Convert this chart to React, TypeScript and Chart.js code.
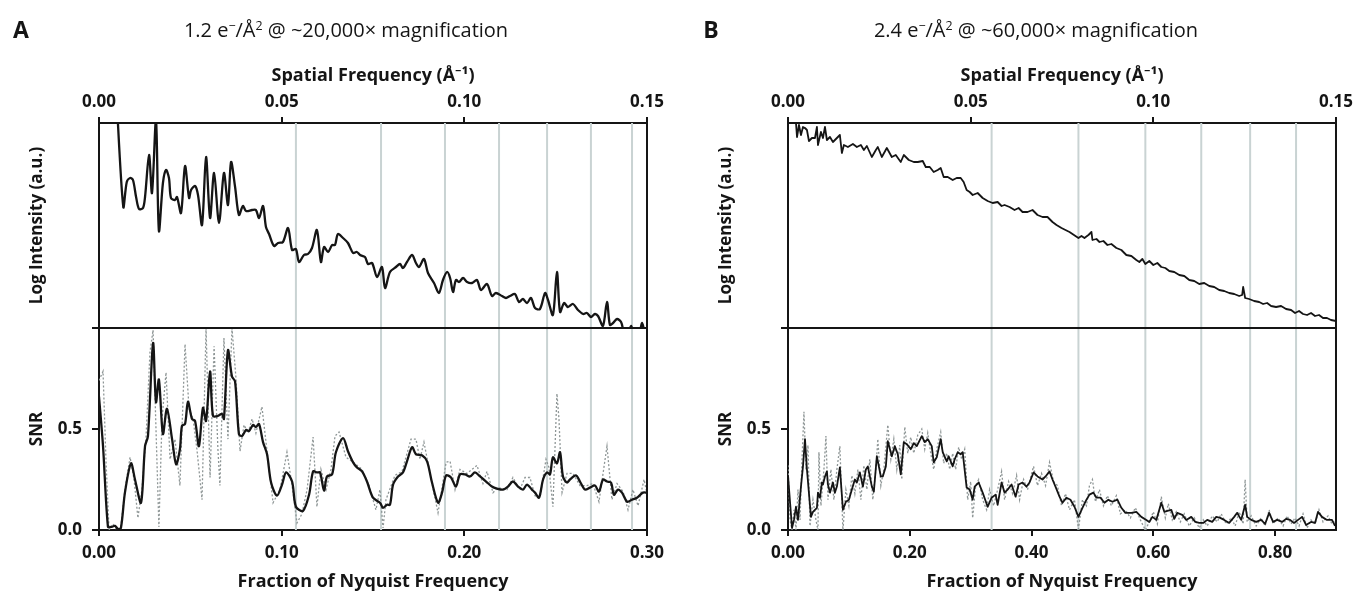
import React, { useEffect, useRef } from 'react';
import { Chart, registerables } from 'chart.js';
Chart.register(...registerables);

const FONT = "'Open Sans', 'Noto Sans', 'DejaVu Sans', sans-serif";

// ---------- shared axis ticks ----------
const spatialTicks = [0, 0.05, 0.1, 0.15];
const snrTicks = [0, 0.5, 1.0];
const nyquistTicksA = [0, 0.1, 0.2, 0.3];
const nyquistTicksB = [0, 0.2, 0.4, 0.6, 0.8];

// ---------- Panel A ----------
const ctfZerosA = [0.1078, 0.1544, 0.1894, 0.219, 0.2453, 0.2693, 0.2918];
const intensityA: [number, number][] = [
  [0.0093, 240], [0.0133, 121], [0.0152, 146], [0.017, 150], [0.0186, 148], [0.0203, 131], [0.0219, 119], [0.0241, 120],
  [0.0252, 131], [0.0274, 173], [0.029, 135], [0.0312, 208], [0.0328, 97], [0.035, 145], [0.0367, 158], [0.0383, 150],
  [0.0394, 130], [0.0416, 128], [0.0427, 131], [0.0449, 115], [0.0471, 162], [0.0493, 130], [0.0504, 138], [0.0526, 142],
  [0.0542, 133], [0.0564, 103], [0.0586, 171], [0.0608, 110], [0.063, 155], [0.0657, 105], [0.0684, 155], [0.0706, 123],
  [0.0723, 166], [0.0745, 141], [0.0766, 113], [0.0788, 122], [0.0805, 117], [0.0838, 118], [0.0859, 118], [0.0876, 110],
  [0.0898, 122], [0.0914, 101], [0.0931, 94], [0.0958, 82], [0.098, 85], [0.1007, 86], [0.1035, 100], [0.1057, 78],
  [0.1078, 79], [0.1095, 66], [0.1122, 73], [0.1144, 74], [0.1166, 80], [0.1193, 98], [0.1215, 66], [0.1232, 81],
  [0.1254, 76], [0.1276, 83], [0.1292, 83], [0.1308, 94], [0.1336, 90], [0.1363, 85], [0.1391, 75], [0.1412, 76],
  [0.1429, 73], [0.1456, 71], [0.1473, 64], [0.1495, 65], [0.1522, 51], [0.1549, 61], [0.1566, 40], [0.1593, 56],
  [0.1626, 61], [0.1648, 64], [0.1664, 60], [0.1686, 66], [0.1714, 73], [0.1735, 65], [0.1752, 61], [0.1779, 69],
  [0.1801, 55], [0.1834, 45], [0.1861, 35], [0.1883, 48], [0.1905, 56], [0.1922, 50], [0.1938, 36], [0.1954, 48],
  [0.1971, 46], [0.1993, 50], [0.2015, 46], [0.2042, 45], [0.2069, 48], [0.2091, 38], [0.2124, 44], [0.2151, 32],
  [0.2173, 35], [0.2206, 32], [0.2228, 30], [0.225, 32], [0.2277, 34], [0.2299, 26], [0.2321, 29], [0.2343, 25],
  [0.2365, 30], [0.2387, 20], [0.2414, 19], [0.2442, 35], [0.2458, 28], [0.2485, 13], [0.2507, 56], [0.2524, 16],
  [0.2546, 25], [0.2567, 21], [0.2595, 24], [0.2622, 18], [0.265, 14], [0.2671, 15], [0.2693, 11], [0.2715, 14],
  [0.2732, 12], [0.2759, 2], [0.2781, 26], [0.2797, 3], [0.2814, 5], [0.2836, 9], [0.2858, 6], [0.2874, -4],
  [0.2896, -7], [0.2912, 2], [0.2929, -5], [0.2956, -6], [0.2973, 5], [0.2989, -5], [0.3, -2],
];
const snrSmoothA: [number, number][] = [
  [0, 0.66], [0.0022, 0.415], [0.0049, 0.015], [0.0066, 0.015], [0.0088, 0.02], [0.0104, 0.005], [0.012, 0.01],
  [0.0142, 0.185], [0.0175, 0.33], [0.0197, 0.25], [0.023, 0.135], [0.0252, 0.415], [0.0268, 0.465], [0.0296, 0.925],
  [0.0312, 0.633], [0.0328, 0.745], [0.035, 0.475], [0.0372, 0.6], [0.04, 0.45], [0.0422, 0.325], [0.0443, 0.4],
  [0.0454, 0.515], [0.0471, 0.525], [0.0487, 0.635], [0.0509, 0.55], [0.0526, 0.54], [0.0547, 0.415], [0.0569, 0.605],
  [0.0586, 0.54], [0.0608, 0.785], [0.0624, 0.565], [0.0651, 0.565], [0.0673, 0.575], [0.0684, 0.55], [0.0706, 0.89],
  [0.0728, 0.76], [0.0745, 0.735], [0.0766, 0.475], [0.0783, 0.465], [0.0805, 0.495], [0.0821, 0.49], [0.0843, 0.52],
  [0.0859, 0.51], [0.0876, 0.525], [0.0898, 0.435], [0.092, 0.375], [0.0942, 0.235], [0.0974, 0.17], [0.1002, 0.225],
  [0.1024, 0.285], [0.1057, 0.24], [0.1078, 0.115], [0.1117, 0.095], [0.115, 0.175], [0.1172, 0.29], [0.1193, 0.285],
  [0.121, 0.285], [0.1232, 0.195], [0.1248, 0.265], [0.1276, 0.275], [0.1297, 0.385], [0.1336, 0.455], [0.1363, 0.39],
  [0.1391, 0.335], [0.1412, 0.31], [0.144, 0.29], [0.1467, 0.24], [0.15, 0.16], [0.1538, 0.135], [0.1555, 0.11],
  [0.1577, 0.125], [0.1593, 0.125], [0.161, 0.225], [0.1637, 0.265], [0.1664, 0.285], [0.1686, 0.34], [0.1714, 0.41],
  [0.1735, 0.375], [0.1768, 0.37], [0.1796, 0.34], [0.1823, 0.235], [0.1856, 0.135], [0.1878, 0.185], [0.19, 0.27],
  [0.1927, 0.26], [0.1954, 0.215], [0.1976, 0.275], [0.2004, 0.275], [0.2031, 0.265], [0.2058, 0.285], [0.2086, 0.265],
  [0.2119, 0.24], [0.2151, 0.215], [0.2179, 0.205], [0.2212, 0.2], [0.2239, 0.215], [0.2266, 0.24], [0.2294, 0.215],
  [0.2321, 0.2], [0.2343, 0.225], [0.237, 0.2], [0.2387, 0.185], [0.2409, 0.16], [0.2431, 0.25], [0.2453, 0.285],
  [0.2469, 0.275], [0.2485, 0.36], [0.2507, 0.33], [0.2524, 0.385], [0.254, 0.265], [0.2562, 0.235], [0.2578, 0.25],
  [0.2611, 0.27], [0.2633, 0.24], [0.2661, 0.2], [0.2688, 0.21], [0.2715, 0.22], [0.2737, 0.19], [0.2759, 0.25],
  [0.2781, 0.24], [0.2803, 0.235], [0.2819, 0.175], [0.2841, 0.2], [0.2863, 0.185], [0.2891, 0.14], [0.2918, 0.15],
  [0.2945, 0.16], [0.2978, 0.185], [0.3, 0.185],
];
const snrRawA: [number, number][] = [
  [0, 0.74], [0.0022, 0.785], [0.0038, 0.35], [0.0055, 0.0], [0.0077, 0.03], [0.0099, 0.0], [0.012, 0.02], [0.0142, 0.2],
  [0.017, 0.36], [0.0192, 0.25], [0.0213, 0.06], [0.0235, 0.2], [0.0257, 0.45], [0.0279, 0.88], [0.0296, 0.99],
  [0.0312, 0.5], [0.0328, 0.015], [0.0345, 0.55], [0.0367, 0.78], [0.0389, 0.35], [0.0416, 0.45], [0.0443, 0.22],
  [0.0471, 0.92], [0.0493, 0.6], [0.0515, 0.55], [0.0536, 0.4], [0.0564, 0.15], [0.0586, 1.0], [0.0608, 0.26],
  [0.063, 0.91], [0.0651, 0.4], [0.0662, 0.22], [0.0684, 0.95], [0.0706, 0.45], [0.0728, 1.0], [0.075, 0.75],
  [0.0772, 0.39], [0.0794, 0.52], [0.0816, 0.48], [0.0838, 0.55], [0.0859, 0.48], [0.0892, 0.61], [0.092, 0.39],
  [0.0953, 0.135], [0.0991, 0.2], [0.1029, 0.385], [0.1057, 0.22], [0.1084, 0.035], [0.1111, 0.08], [0.1139, 0.2],
  [0.1172, 0.46], [0.1193, 0.115], [0.1215, 0.3], [0.1243, 0.2], [0.127, 0.3], [0.1292, 0.465], [0.1314, 0.485],
  [0.1352, 0.36], [0.1385, 0.34], [0.144, 0.3], [0.1478, 0.22], [0.1516, 0.1], [0.1538, 0.2], [0.1555, 0.01],
  [0.1571, 0.15], [0.162, 0.27], [0.1659, 0.29], [0.1708, 0.45], [0.1735, 0.45], [0.1757, 0.35], [0.1779, 0.435],
  [0.1812, 0.28], [0.1856, 0.085], [0.19, 0.335], [0.1922, 0.34], [0.1949, 0.2], [0.1976, 0.3], [0.2014, 0.28],
  [0.2069, 0.32], [0.2102, 0.23], [0.2124, 0.29], [0.2157, 0.185], [0.2184, 0.21], [0.2234, 0.2], [0.2266, 0.26],
  [0.2304, 0.2], [0.2332, 0.26], [0.2359, 0.26], [0.2387, 0.17], [0.2414, 0.16], [0.2447, 0.35], [0.2463, 0.31],
  [0.2485, 0.115], [0.2507, 0.675], [0.2518, 0.55], [0.2535, 0.185], [0.2562, 0.28], [0.2595, 0.28], [0.2633, 0.22],
  [0.2671, 0.22], [0.2704, 0.23], [0.2737, 0.14], [0.2781, 0.415], [0.2808, 0.15], [0.2836, 0.23], [0.2869, 0.19],
  [0.2896, 0.1], [0.2923, 0.2], [0.2951, 0.12], [0.2984, 0.25], [0.3, 0.18],
];

// ---------- Panel B ----------
const ctfZerosB = [0.3344, 0.477, 0.5869, 0.6787, 0.759, 0.8344];
const intensityB: [number, number][] = [
  [0.0131, 205], [0.0148, 191], [0.018, 203], [0.0213, 193], [0.0246, 201], [0.0279, 200], [0.0311, 198], [0.0344, 187],
  [0.0393, 190], [0.0443, 190], [0.0475, 201], [0.0492, 183], [0.0541, 196], [0.0574, 190], [0.0607, 201], [0.0639, 188],
  [0.0689, 191], [0.0738, 186], [0.0787, 189], [0.0852, 193], [0.0885, 175], [0.0918, 183], [0.0984, 181], [0.1066, 184],
  [0.1131, 181], [0.1197, 183], [0.1246, 178], [0.1295, 182], [0.1377, 171], [0.1443, 178], [0.1475, 181], [0.1541, 171],
  [0.1623, 180], [0.1705, 171], [0.177, 173], [0.1852, 166], [0.1902, 173], [0.1984, 168], [0.2066, 166], [0.2131, 166],
  [0.2213, 167], [0.2262, 161], [0.2328, 161], [0.2393, 156], [0.2459, 158], [0.2508, 160], [0.2557, 151], [0.2623, 151],
  [0.2705, 148], [0.277, 150], [0.2836, 150], [0.2885, 146], [0.2934, 138], [0.2984, 136], [0.3033, 133], [0.3115, 135],
  [0.3197, 130], [0.3279, 127], [0.3361, 125], [0.3443, 126], [0.3508, 122], [0.3557, 123], [0.3639, 121], [0.3721, 118],
  [0.3787, 120], [0.3852, 116], [0.3934, 116], [0.4016, 118], [0.4098, 113], [0.418, 111], [0.4262, 111], [0.4344, 106],
  [0.441, 103], [0.4492, 100], [0.4557, 98], [0.4623, 96], [0.477, 90], [0.482, 92], [0.4869, 90], [0.4934, 93],
  [0.4984, 96], [0.5, 88], [0.5066, 89], [0.5115, 86], [0.518, 87], [0.5246, 83], [0.5311, 84], [0.5393, 80],
  [0.5475, 78], [0.5557, 73], [0.5639, 72], [0.5721, 68], [0.577, 66], [0.582, 69], [0.5869, 64], [0.5934, 67],
  [0.6, 63], [0.6066, 65], [0.6131, 61], [0.6197, 60], [0.6262, 57], [0.6344, 56], [0.6426, 53], [0.6508, 52],
  [0.659, 48], [0.6672, 47], [0.6754, 44], [0.6836, 45], [0.6918, 42], [0.7, 41], [0.7082, 38], [0.7164, 37],
  [0.7246, 35], [0.7328, 34], [0.741, 32], [0.7459, 33], [0.7475, 41], [0.7508, 30], [0.7574, 29], [0.7656, 27],
  [0.7738, 26], [0.7803, 24], [0.7869, 25], [0.7934, 22], [0.8016, 21], [0.8098, 22], [0.818, 19], [0.8262, 18],
  [0.8328, 15], [0.8393, 17], [0.8459, 14], [0.8525, 13], [0.859, 15], [0.8656, 12], [0.8721, 13], [0.8787, 10],
  [0.8852, 10], [0.8918, 8], [0.9, 7],
];
const snrSmoothB: [number, number][] = [
  [0, 0.27], [0.0066, 0.01], [0.0098, 0.05], [0.0131, 0.115], [0.0164, 0.05], [0.0213, 0.215], [0.0246, 0.315],
  [0.0279, 0.45], [0.0311, 0.3], [0.0377, 0.065], [0.041, 0.09], [0.0475, 0.11], [0.0492, 0.185], [0.0525, 0.16],
  [0.0557, 0.235], [0.0574, 0.225], [0.0607, 0.265], [0.0639, 0.29], [0.0656, 0.225], [0.0689, 0.185], [0.0738, 0.235],
  [0.077, 0.185], [0.0803, 0.215], [0.0852, 0.31], [0.0902, 0.1], [0.0951, 0.14], [0.1, 0.15], [0.1049, 0.2],
  [0.1098, 0.25], [0.1131, 0.235], [0.118, 0.285], [0.123, 0.215], [0.1279, 0.3], [0.1311, 0.315], [0.1377, 0.215],
  [0.141, 0.19], [0.1459, 0.365], [0.1525, 0.265], [0.1557, 0.265], [0.1607, 0.315], [0.1639, 0.44], [0.1705, 0.365],
  [0.1754, 0.415], [0.1803, 0.375], [0.1852, 0.275], [0.1902, 0.435], [0.1951, 0.425], [0.2016, 0.4], [0.2066, 0.43],
  [0.2115, 0.415], [0.2197, 0.465], [0.2246, 0.435], [0.2295, 0.45], [0.2361, 0.415], [0.2393, 0.335], [0.2443, 0.36],
  [0.2508, 0.45], [0.2541, 0.385], [0.2607, 0.34], [0.2639, 0.365], [0.2705, 0.315], [0.2738, 0.35], [0.2787, 0.385],
  [0.2836, 0.375], [0.2869, 0.385], [0.2934, 0.21], [0.2984, 0.2], [0.3033, 0.15], [0.3066, 0.215], [0.3131, 0.235],
  [0.3197, 0.185], [0.3279, 0.115], [0.3344, 0.16], [0.341, 0.175], [0.3443, 0.125], [0.3508, 0.235], [0.3557, 0.185],
  [0.3607, 0.2], [0.3672, 0.225], [0.3738, 0.165], [0.3787, 0.225], [0.3852, 0.235], [0.3918, 0.215], [0.3967, 0.235],
  [0.4033, 0.285], [0.4098, 0.265], [0.418, 0.25], [0.423, 0.265], [0.4295, 0.29], [0.4344, 0.25], [0.4393, 0.215],
  [0.4459, 0.165], [0.4508, 0.135], [0.4574, 0.16], [0.4639, 0.15], [0.4705, 0.115], [0.477, 0.065], [0.4836, 0.11],
  [0.4902, 0.15], [0.4951, 0.175], [0.5016, 0.185], [0.5066, 0.16], [0.5131, 0.16], [0.5197, 0.135], [0.5262, 0.15],
  [0.5328, 0.14], [0.541, 0.15], [0.5475, 0.11], [0.5541, 0.085], [0.5639, 0.085], [0.5721, 0.09], [0.5803, 0.065],
  [0.5885, 0.05], [0.5934, 0.04], [0.5984, 0.065], [0.6049, 0.05], [0.6131, 0.135], [0.618, 0.09], [0.623, 0.095],
  [0.6295, 0.1], [0.6344, 0.055], [0.6393, 0.085], [0.6475, 0.075], [0.6541, 0.05], [0.6623, 0.065], [0.6689, 0.04],
  [0.6754, 0.035], [0.682, 0.035], [0.6885, 0.05], [0.6967, 0.04], [0.7033, 0.065], [0.7098, 0.06], [0.7164, 0.05],
  [0.7246, 0.035], [0.7328, 0.065], [0.7377, 0.085], [0.7443, 0.05], [0.7508, 0.125], [0.7541, 0.065], [0.7607, 0.05],
  [0.7689, 0.04], [0.777, 0.05], [0.7836, 0.03], [0.7902, 0.085], [0.7967, 0.04], [0.8033, 0.05], [0.8115, 0.04],
  [0.818, 0.055], [0.8246, 0.05], [0.8311, 0.035], [0.8377, 0.05], [0.8443, 0.065], [0.8508, 0.025], [0.859, 0.04],
  [0.8656, 0.035], [0.8705, 0.09], [0.877, 0.065], [0.8852, 0.05], [0.8934, 0.05], [0.8984, 0.02],
];
const snrRawB: [number, number][] = [
  [0, 0.32], [0.0033, 0.05], [0.0066, 0.0], [0.0098, 0.1], [0.0131, 0.0], [0.0164, 0.2], [0.0197, 0.05], [0.023, 0.35],
  [0.0262, 0.585], [0.0295, 0.3], [0.0328, 0.42], [0.0361, 0.02], [0.041, 0.15], [0.0459, 0.05], [0.0492, 0.0],
  [0.0508, 0.385], [0.0541, 0.12], [0.059, 0.3], [0.0623, 0.465], [0.0656, 0.15], [0.0705, 0.3], [0.0754, 0.15],
  [0.0803, 0.3], [0.0852, 0.415], [0.0902, 0.0], [0.0951, 0.2], [0.1, 0.12], [0.1049, 0.27], [0.1098, 0.18],
  [0.1148, 0.3], [0.1197, 0.15], [0.1246, 0.32], [0.1295, 0.2], [0.1344, 0.35], [0.1393, 0.15], [0.1443, 0.3],
  [0.1475, 0.45], [0.1525, 0.22], [0.1574, 0.3], [0.1639, 0.52], [0.1689, 0.35], [0.1738, 0.45], [0.1787, 0.3],
  [0.1836, 0.42], [0.1869, 0.25], [0.1918, 0.51], [0.1967, 0.38], [0.2016, 0.46], [0.2066, 0.38], [0.2131, 0.47],
  [0.2197, 0.5], [0.2246, 0.4], [0.2295, 0.48], [0.2344, 0.38], [0.2393, 0.3], [0.2443, 0.4], [0.2508, 0.485],
  [0.2557, 0.33], [0.2607, 0.38], [0.2656, 0.3], [0.2705, 0.38], [0.2754, 0.3], [0.2803, 0.41], [0.2852, 0.35],
  [0.2902, 0.4], [0.2951, 0.15], [0.3, 0.24], [0.3033, 0.06], [0.3082, 0.22], [0.3131, 0.25], [0.3197, 0.15],
  [0.3262, 0.1], [0.3311, 0.2], [0.3377, 0.12], [0.3443, 0.2], [0.3508, 0.29], [0.3557, 0.15], [0.3623, 0.24],
  [0.3689, 0.18], [0.3754, 0.27], [0.3803, 0.15], [0.3869, 0.25], [0.3934, 0.2], [0.3984, 0.26], [0.4033, 0.315],
  [0.4098, 0.22], [0.4164, 0.28], [0.423, 0.22], [0.4295, 0.335], [0.4361, 0.24], [0.4426, 0.22], [0.4492, 0.12],
  [0.4557, 0.18], [0.4623, 0.1], [0.4705, 0.15], [0.477, 0.005], [0.4836, 0.15], [0.4902, 0.12], [0.4951, 0.22],
  [0.5, 0.25], [0.5049, 0.14], [0.5115, 0.2], [0.518, 0.12], [0.5246, 0.17], [0.5311, 0.12], [0.5393, 0.17],
  [0.5459, 0.08], [0.5541, 0.1], [0.5623, 0.06], [0.5705, 0.11], [0.5787, 0.05], [0.5869, 0.0], [0.5934, 0.04],
  [0.6, 0.09], [0.6066, 0.03], [0.6131, 0.165], [0.6197, 0.06], [0.6246, 0.13], [0.6311, 0.05], [0.6377, 0.09],
  [0.6443, 0.04], [0.6508, 0.08], [0.659, 0.02], [0.6672, 0.06], [0.6754, 0.01], [0.682, 0.05], [0.6885, 0.02],
  [0.6967, 0.07], [0.7049, 0.04], [0.7115, 0.08], [0.7197, 0.03], [0.7279, 0.06], [0.7344, 0.02], [0.741, 0.09],
  [0.7475, 0.03], [0.7508, 0.25], [0.7541, 0.04], [0.7607, 0.07], [0.7689, 0.02], [0.777, 0.06], [0.7836, 0.02],
  [0.7902, 0.1], [0.7967, 0.03], [0.8049, 0.06], [0.8131, 0.02], [0.8197, 0.07], [0.8262, 0.03], [0.8328, 0.06],
  [0.8393, 0.02], [0.8459, 0.08], [0.8525, 0.01], [0.859, 0.05], [0.8656, 0.03], [0.8721, 0.1], [0.8787, 0.04],
  [0.8869, 0.07], [0.8934, 0.03], [0.9, 0.05],
];

// ---------- chart helpers ----------
const INK = '#151515';
const tickFont = { family: FONT, size: 17, weight: 'bold' as const };
const titleFont = { family: FONT, size: 18, weight: 'bold' as const };
const toPts = (arr: [number, number][]) => arr.map(([x, y]) => ({ x, y }));

function makeFramePlugin(zeros: number[]) {
  return {
    id: 'frame',
    beforeDatasetsDraw(chart: any) {
      const { ctx, chartArea } = chart;
      const xs = chart.scales.x;
      ctx.save();
      ctx.strokeStyle = '#c9d3d3';
      ctx.lineWidth = 2;
      for (const v of zeros) {
        const px = xs.getPixelForValue(v);
        ctx.beginPath();
        ctx.moveTo(px, chartArea.top);
        ctx.lineTo(px, chartArea.bottom);
        ctx.stroke();
      }
      ctx.restore();
    },
    beforeDatasetDraw(chart: any, args: any) {
      const meta = args.meta;
      const xs = chart.scales[meta.xAxisID];
      const ys = chart.scales[meta.yAxisID];
      const ctx = chart.ctx;
      ctx.save();
      ctx.beginPath();
      ctx.rect(xs.left, ys.top, xs.right - xs.left, ys.bottom - ys.top);
      ctx.clip();
    },
    afterDatasetDraw(chart: any) {
      chart.ctx.restore();
    },
    afterDraw(chart: any) {
      const { ctx, chartArea } = chart;
      const ys = chart.scales.yS;
      ctx.save();
      ctx.strokeStyle = INK;
      ctx.lineWidth = 2;
      ctx.beginPath();
      ctx.moveTo(chartArea.left, ys.top);
      ctx.lineTo(chartArea.right, ys.top);
      ctx.stroke();
      ctx.beginPath();
      ctx.moveTo(chartArea.right, chartArea.top - 1);
      ctx.lineTo(chartArea.right, chartArea.bottom + 1);
      ctx.stroke();
      ctx.restore();
    },
  };
}

type PanelProps = {
  left: number;
  width: number;
  rightPad: number;
  nyqMax: number;
  nyqTicks: number[];
  zeros: number[];
  intensity: [number, number][];
  snrSmooth: [number, number][];
  snrRaw: [number, number][];
  lineW: number;
  tension: number;
};

function Panel(p: PanelProps) {
  const ref = useRef<HTMLCanvasElement>(null);
  useEffect(() => {
    const grid = (len: number) => ({
      drawOnChartArea: false,
      drawTicks: true,
      tickLength: len,
      tickColor: INK,
      tickWidth: 2,
      color: INK,
      lineWidth: 2,
    });
    const border = { display: true, color: INK, width: 2 };
    const chart = new Chart(ref.current as HTMLCanvasElement, {
      type: 'line',
      data: {
        datasets: [
          {
            data: toPts(p.intensity),
            xAxisID: 'x',
            yAxisID: 'yI',
            borderColor: INK,
            borderWidth: p.lineW,
            tension: p.tension,
            pointRadius: 0,
            fill: false,
            borderJoinStyle: 'round',
          },
          {
            data: toPts(p.snrSmooth),
            xAxisID: 'x',
            yAxisID: 'yS',
            borderColor: INK,
            borderWidth: p.lineW,
            tension: p.tension,
            pointRadius: 0,
            fill: false,
            borderJoinStyle: 'round',
          },
          {
            data: toPts(p.snrRaw),
            xAxisID: 'x',
            yAxisID: 'yS',
            borderColor: '#8e9696',
            borderWidth: 1.3,
            borderDash: [2, 2],
            tension: 0,
            pointRadius: 0,
            fill: false,
          },
        ] as any,
      },
      options: {
        responsive: false,
        animation: false,
        events: [],
        layout: { padding: { top: 60, left: 0, right: p.rightPad, bottom: 0 } },
        plugins: { legend: { display: false }, tooltip: { enabled: false }, title: { display: false } },
        scales: {
          x: {
            type: 'linear',
            position: 'bottom',
            min: 0,
            max: p.nyqMax,
            afterBuildTicks: (s: any) => {
              s.ticks = p.nyqTicks.map((v) => ({ value: v }));
            },
            afterFit: (s: any) => {
              s.height = 65;
            },
            ticks: {
              callback: (v: any) => Number(v).toFixed(2),
              font: tickFont,
              color: INK,
              padding: 7,
              maxRotation: 0,
              autoSkip: false,
            },
            grid: grid(6),
            border,
            title: {
              display: true,
              text: 'Fraction of Nyquist Frequency',
              font: titleFont,
              color: INK,
              padding: { top: 0, bottom: 2 },
            },
          },
          x2: {
            type: 'linear',
            position: 'top',
            min: 0,
            max: 0.15,
            afterBuildTicks: (s: any) => {
              s.ticks = spatialTicks.map((v) => ({ value: v }));
            },
            afterFit: (s: any) => {
              s.height = 63;
            },
            ticks: {
              callback: (v: any) => Number(v).toFixed(2),
              font: tickFont,
              color: INK,
              padding: 5,
              maxRotation: 0,
              autoSkip: false,
            },
            grid: grid(6),
            border,
            title: {
              display: true,
              text: 'Spatial Frequency (Å⁻¹)',
              font: titleFont,
              color: INK,
              padding: { top: 5, bottom: 0 },
            },
          },
          yS: {
            type: 'linear',
            position: 'left',
            stack: 'left',
            stackWeight: 202,
            min: 0,
            max: 1,
            afterBuildTicks: (s: any) => {
              s.ticks = snrTicks.map((v) => ({ value: v }));
            },
            afterFit: (s: any) => {
              s.width = 99;
            },
            ticks: {
              callback: (v: any) => (Number(v) >= 1 ? '' : Number(v).toFixed(1)),
              font: tickFont,
              color: INK,
              padding: 10,
              autoSkip: false,
            },
            grid: grid(7),
            border,
            title: {
              display: true,
              text: 'SNR',
              font: { family: FONT, size: 17, weight: 'bold' },
              color: INK,
              padding: { top: 27, bottom: 0 },
            },
          },
          yI: {
            type: 'linear',
            position: 'left',
            stack: 'left',
            stackWeight: 205,
            min: 0,
            max: 205,
            afterFit: (s: any) => {
              s.width = 99;
            },
            ticks: { display: false },
            grid: { drawOnChartArea: false, drawTicks: false },
            border,
            title: {
              display: true,
              text: 'Log Intensity (a.u.)',
              font: { family: FONT, size: 17, weight: 'bold' },
              color: INK,
              padding: { top: 27, bottom: 0 },
            },
          },
        },
      } as any,
      plugins: [makeFramePlugin(p.zeros)],
    });
    return () => chart.destroy();
  }, []);
  return (
    <canvas
      ref={ref}
      width={p.width}
      height={595}
      style={{ position: 'absolute', left: p.left, top: 0, width: p.width, height: 595 }}
    />
  );
}

const labelStyle: React.CSSProperties = {
  position: 'absolute',
  transform: 'translate(-50%, -50%)',
  whiteSpace: 'nowrap',
  lineHeight: 1,
  color: INK,
  fontFamily: FONT,
};
const supStyle: React.CSSProperties = { fontSize: '0.62em', verticalAlign: '0.55em' };

export default function App() {
  return (
    <div
      style={{
        position: 'absolute',
        left: 0,
        top: 0,
        width: 1358,
        height: 595,
        background: '#fff',
        overflow: 'hidden',
      }}
    >
      <Panel
        left={0}
        width={680}
        rightPad={33}
        nyqMax={0.3}
        nyqTicks={nyquistTicksA}
        zeros={ctfZerosA}
        intensity={intensityA}
        snrSmooth={snrSmoothA}
        snrRaw={snrRawA}
        lineW={2.3}
        tension={0.3}
      />
      <Panel
        left={689}
        width={669}
        rightPad={21}
        nyqMax={0.9}
        nyqTicks={nyquistTicksB}
        zeros={ctfZerosB}
        intensity={intensityB}
        snrSmooth={snrSmoothB}
        snrRaw={snrRawB}
        lineW={1.8}
        tension={0}
      />
      <div style={{ ...labelStyle, left: 21, top: 29, fontSize: 23, fontWeight: 700 }}>A</div>
      <div style={{ ...labelStyle, left: 711, top: 29, fontSize: 23, fontWeight: 700 }}>B</div>
      <div style={{ ...labelStyle, left: 346, top: 30, fontSize: 20 }}>
        1.2 e<sup style={supStyle}>−</sup>/Å<sup style={supStyle}>2</sup> @ ~20,000× magnification
      </div>
      <div style={{ ...labelStyle, left: 1036, top: 30, fontSize: 20 }}>
        2.4 e<sup style={supStyle}>−</sup>/Å<sup style={supStyle}>2</sup> @ ~60,000× magnification
      </div>
    </div>
  );
}
